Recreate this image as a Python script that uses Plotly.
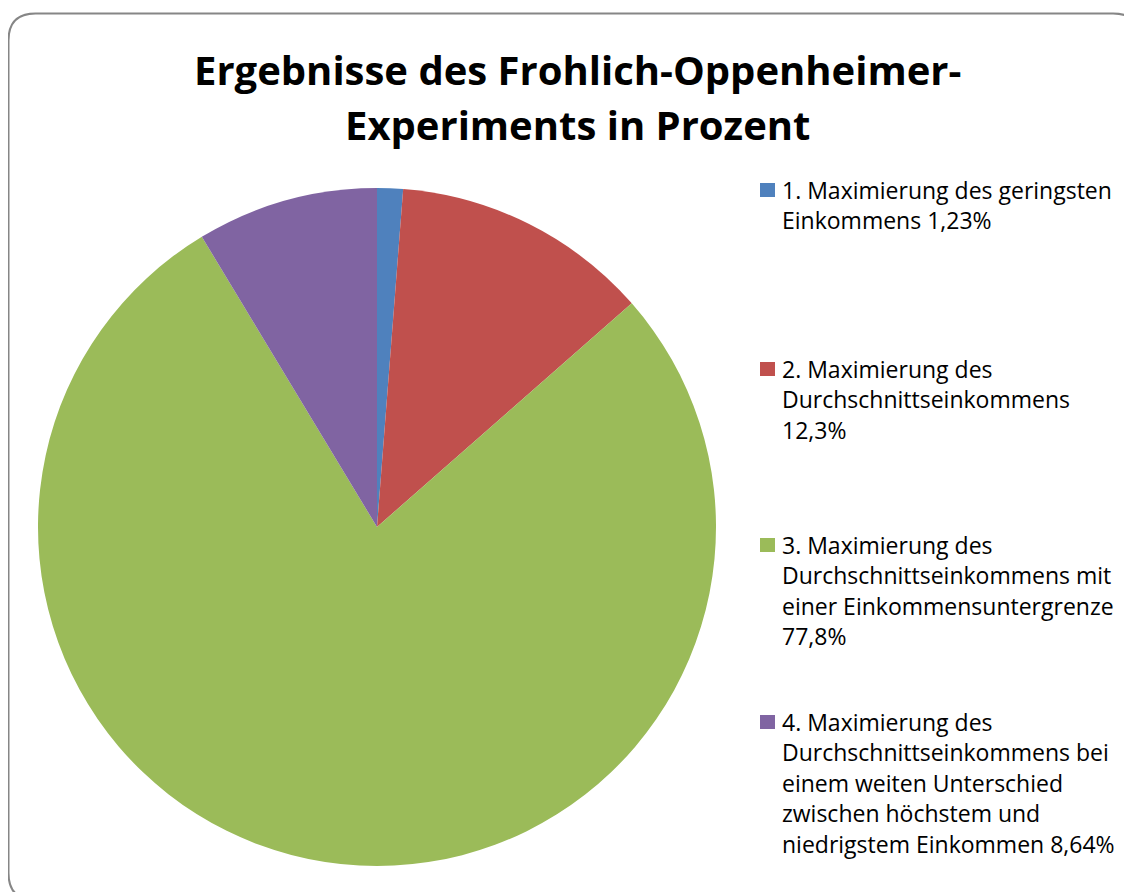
import plotly.graph_objects as go

# ---- data ----
labels = [
    "1. Maximierung des geringsten<br>Einkommens 1,23%",
    "2. Maximierung des<br>Durchschnittseinkommens<br>12,3%",
    "3. Maximierung des<br>Durchschnittseinkommens mit<br>einer Einkommensuntergrenze<br>77,8%",
    "4. Maximierung des<br>Durchschnittseinkommens bei<br>einem weiten Unterschied<br>zwischen höchstem und<br>niedrigstem Einkommen 8,64%",
]
values = [1.23, 12.3, 77.8, 8.64]
colors = ["#4F81BD", "#C0504D", "#9BBB59", "#8064A2"]
title_lines = ["Ergebnisse des Frohlich-Oppenheimer-", "Experiments in Prozent"]

W, H = 1132, 892
OFF = 8  # page body margin in the browser
FONT = "Open Sans"


def px(x):
    return (x - OFF) / W


def py(y):
    return 1 - (y - OFF) / H


fig = go.Figure()
fig.add_trace(go.Pie(
    labels=[l.replace("<br>", " ") for l in labels],
    values=values,
    marker=dict(colors=colors, line=dict(width=0)),
    sort=False,
    direction="clockwise",
    rotation=0,
    textinfo="none",
    hoverinfo="label+percent",
    showlegend=False,
    domain=dict(x=[px(38), px(716)], y=[py(866), py(188)]),
))

annotations = []
# title
title_y = [69, 125]
for line, y in zip(title_lines, title_y):
    annotations.append(dict(
        text=f"<b>{line}</b>", x=px(577), y=py(y), xref="paper", yref="paper",
        xanchor="center", yanchor="middle", showarrow=False,
        font=dict(family=FONT, size=40, color="#000000"),
    ))

# legend
entry_top = [190, 369, 545, 722]
line_h = 30.4
shapes = []
for lab, col, y0 in zip(labels, colors, entry_top):
    for i, line in enumerate(lab.split("<br>")):
        annotations.append(dict(
            text=line, x=px(780), y=py(y0 + i * line_h), xref="paper", yref="paper",
            xanchor="left", yanchor="middle", showarrow=False,
            font=dict(family=FONT, size=23, color="#000000"),
        ))
    shapes.append(dict(
        type="rect", xref="paper", yref="paper",
        x0=px(760), x1=px(775), y0=py(y0 - 7), y1=py(y0 + 7),
        fillcolor=col, line=dict(width=0),
    ))

# chart-area border with rounded corners
L, T, R, B, r = 8.5, 13.5, 1140, 900, 27
path = (
    f"M {px(L + r)},{py(T)} L {px(R - r)},{py(T)} "
    f"Q {px(R)},{py(T)} {px(R)},{py(T + r)} "
    f"L {px(R)},{py(B - r)} Q {px(R)},{py(B)} {px(R - r)},{py(B)} "
    f"L {px(L + r)},{py(B)} Q {px(L)},{py(B)} {px(L)},{py(B - r)} "
    f"L {px(L)},{py(T + r)} Q {px(L)},{py(T)} {px(L + r)},{py(T)} Z"
)
shapes.append(dict(type="path", xref="paper", yref="paper", path=path,
                   line=dict(color="#868686", width=2), layer="above"))

fig.update_layout(
    width=W, height=H,
    margin=dict(l=0, r=0, t=0, b=0),
    paper_bgcolor="white",
    plot_bgcolor="white",
    annotations=annotations,
    shapes=shapes,
    showlegend=False,
)

fig.write_html("out.html")
